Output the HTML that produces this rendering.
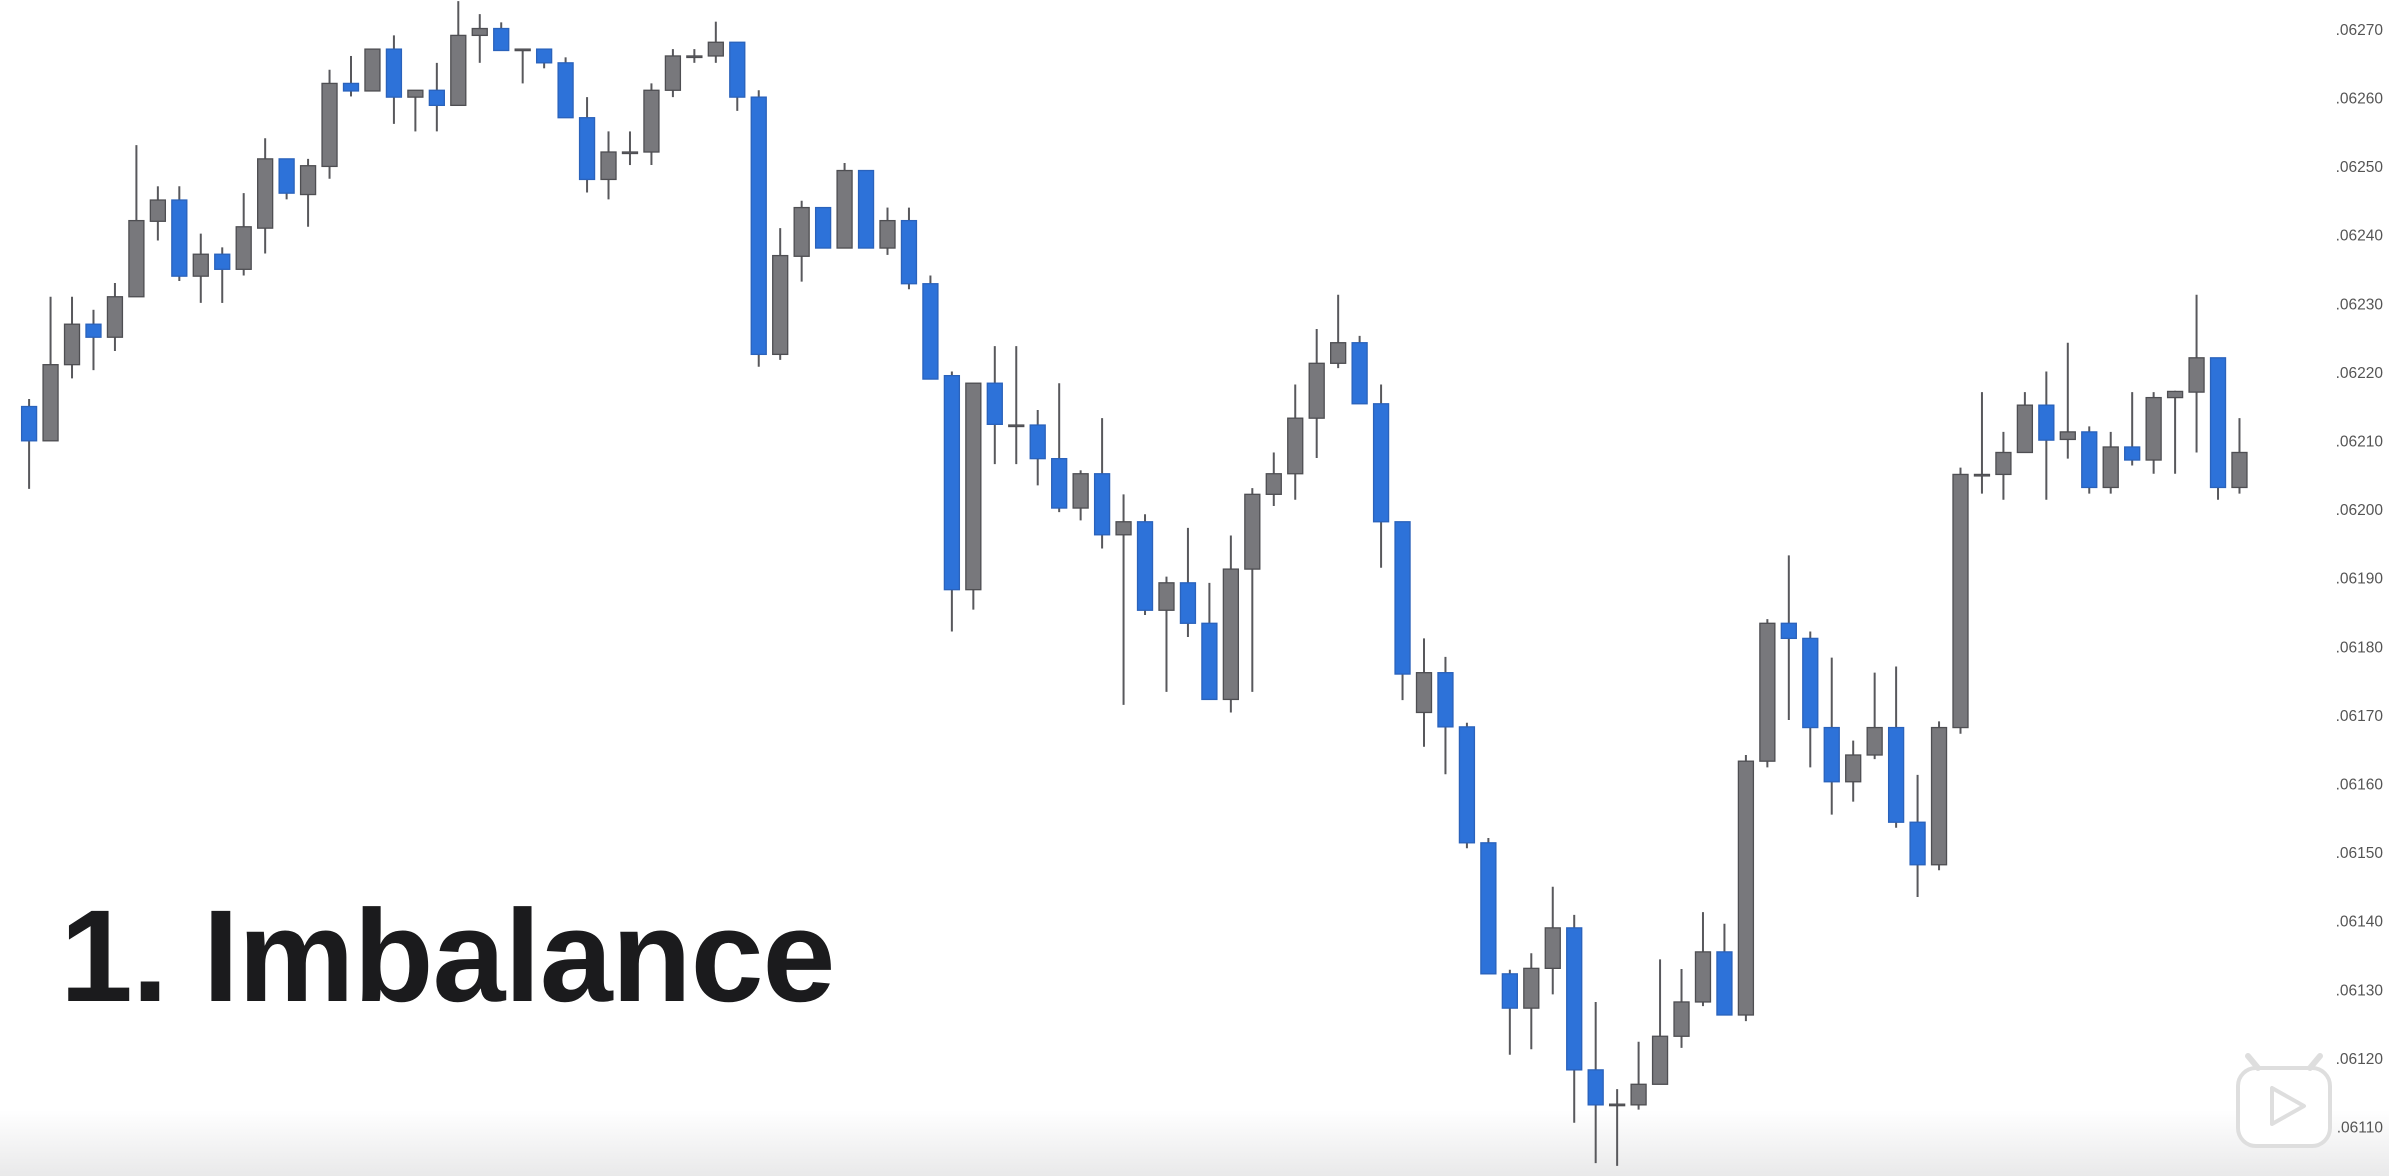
<!DOCTYPE html>
<html><head><meta charset="utf-8"><style>
html,body{margin:0;padding:0;background:#fff;}
#wrap{position:relative;width:2389px;height:1176px;overflow:hidden;background:#fff;font-family:"Liberation Sans",sans-serif;}
#title{position:absolute;left:60px;top:880px;font-size:131px;font-weight:bold;color:#1b1b1d;letter-spacing:-1px;white-space:nowrap;}
#fade{position:absolute;left:0;top:1110px;width:2389px;height:66px;background:linear-gradient(#fff,#e9e9ea);}
</style></head><body>
<div id="wrap">
<div id="fade"></div>
<svg id="chart" width="2389" height="1176" style="position:absolute;left:0;top:0"></svg>
<div id="title">1. Imbalance</div>
</div>
<script>
// prices in units of 1e-5
const opens =  [6215.1,6210.1,6221.2,6227.1,6225.2,6231.1,6242.1,6245.2,6234.1,6237.3,6235.1,6241.1,6251.2,6246.0,6250.1,6262.2,6261.1,6267.2,6260.2,6261.2,6259.0,6269.2,6270.2,6267.0,6267.2,6265.2,6257.2,6248.2,6252.2,6252.2,6261.2,6266.2,6266.2,6268.2,6260.2,6222.7,6237.0,6244.1,6238.2,6249.5,6238.2,6242.2,6233.0,6219.6,6188.4,6218.5,6212.4,6212.4,6207.5,6200.3,6205.3,6196.4,6198.3,6185.4,6189.4,6183.5,6172.4,6191.4,6202.3,6205.3,6213.4,6221.4,6224.4,6215.5,6198.3,6170.5,6176.3,6168.4,6151.5,6132.4,6127.4,6133.2,6139.1,6118.4,6113.4,6113.3,6116.3,6123.3,6128.3,6135.6,6126.4,6163.4,6183.5,6181.3,6168.3,6160.4,6164.3,6168.3,6154.5,6148.3,6168.3,6205.2,6205.2,6208.4,6215.3,6210.3,6211.4,6203.3,6209.2,6207.3,6216.4,6217.2,6222.2,6203.3];
const highs =  [6216.2,6231.1,6231.1,6229.2,6233.1,6253.2,6247.2,6247.2,6240.3,6238.3,6246.2,6254.2,6251.2,6251.2,6264.2,6266.2,6267.2,6269.2,6261.2,6265.2,6274.2,6272.3,6271.1,6267.2,6267.2,6266.0,6260.2,6255.2,6255.2,6262.2,6267.2,6267.2,6271.2,6268.2,6261.2,6241.1,6245.1,6244.1,6250.6,6249.5,6244.1,6244.1,6234.2,6220.2,6218.5,6223.9,6223.9,6214.6,6218.5,6205.8,6213.4,6202.3,6199.4,6190.3,6197.4,6189.4,6196.3,6203.2,6208.4,6218.3,6226.4,6231.4,6225.4,6218.3,6198.3,6181.3,6178.6,6169.0,6152.2,6133.0,6135.4,6145.1,6141.0,6128.3,6115.6,6122.5,6134.5,6133.1,6141.4,6139.7,6164.3,6184.1,6193.4,6182.3,6178.5,6166.4,6176.3,6177.2,6161.4,6169.2,6206.2,6217.2,6211.4,6217.2,6220.2,6224.4,6212.2,6211.4,6217.2,6217.2,6217.4,6231.4,6222.2,6213.4];
const lows =   [6203.1,6210.1,6219.2,6220.4,6223.2,6231.1,6239.3,6233.4,6230.2,6230.2,6234.2,6237.4,6245.3,6241.3,6248.3,6260.3,6261.1,6256.3,6255.2,6255.2,6259.0,6265.2,6267.0,6262.2,6264.4,6257.2,6246.3,6245.3,6250.3,6250.3,6260.2,6265.2,6265.2,6258.2,6220.9,6221.9,6233.3,6238.2,6238.2,6238.2,6237.2,6232.2,6219.1,6182.3,6185.5,6206.7,6206.7,6203.6,6199.7,6198.5,6194.4,6171.6,6184.7,6173.5,6181.5,6172.4,6170.5,6173.5,6200.6,6201.5,6207.6,6220.7,6215.5,6191.6,6172.3,6165.5,6161.5,6150.7,6132.4,6120.6,6121.4,6129.4,6110.7,6104.8,6104.4,6112.6,6116.3,6121.6,6127.7,6126.4,6125.5,6162.5,6169.4,6162.5,6155.6,6157.5,6163.7,6153.7,6143.6,6147.5,6167.4,6202.4,6201.5,6208.4,6201.5,6207.5,6202.4,6202.4,6206.5,6205.3,6205.3,6208.4,6201.5,6202.4];
const closes = [6210.1,6221.2,6227.1,6225.2,6231.1,6242.2,6245.2,6234.1,6237.3,6235.1,6241.3,6251.2,6246.2,6250.2,6262.2,6261.1,6267.2,6260.2,6261.2,6259.0,6269.2,6270.2,6267.0,6267.2,6265.2,6257.2,6248.2,6252.2,6252.2,6261.2,6266.2,6266.2,6268.2,6260.2,6222.7,6237.1,6244.1,6238.2,6249.5,6238.2,6242.2,6233.0,6219.1,6188.4,6218.5,6212.5,6212.4,6207.5,6200.3,6205.3,6196.4,6198.3,6185.4,6189.4,6183.5,6172.4,6191.4,6202.3,6205.3,6213.4,6221.4,6224.4,6215.5,6198.3,6176.1,6176.3,6168.4,6151.5,6132.4,6127.4,6133.2,6139.1,6118.4,6113.3,6113.4,6116.3,6123.3,6128.3,6135.6,6126.4,6163.4,6183.5,6181.3,6168.3,6160.4,6164.3,6168.3,6154.5,6148.3,6168.3,6205.2,6205.2,6208.4,6215.3,6210.2,6211.4,6203.3,6209.2,6207.3,6216.4,6217.3,6222.2,6203.3,6208.4];
const tickValues = [6270,6260,6250,6240,6230,6220,6210,6200,6190,6180,6170,6160,6150,6140,6130,6120,6110];
const tickLabels = [".06270",".06260",".06250",".06240",".06230",".06220",".06210",".06200",".06190",".06180",".06170",".06160",".06150",".06140",".06130",".06120",".06110"];

const NS="http://www.w3.org/2000/svg";
const svg=document.getElementById('chart');
function yScale(p){return 304.3+(6230-p)*6.86;}
function xScale(i){return 29.1+i*21.46;}
function mk(tag,attrs){const e=document.createElementNS(NS,tag);for(const k in attrs)e.setAttribute(k,attrs[k]);svg.appendChild(e);return e;}

tickValues.forEach((v,i)=>{
  const t=mk('text',{x:2383,y:yScale(v)+5,'text-anchor':'end','font-size':'15.5','fill':'#555','font-family':'Liberation Sans, sans-serif'});
  t.textContent=tickLabels[i];
  
  
});

for(let i=0;i<opens.length;i++){
  const o=opens[i],h=highs[i],l=lows[i],c=closes[i];
  const x=xScale(i);
  const up=c>=o;
  const g=document.createElementNS(NS,'g');
  
  
  svg.appendChild(g);
  const w=document.createElementNS(NS,'line');
  w.setAttribute('x1',x);w.setAttribute('x2',x);
  w.setAttribute('y1',yScale(h));w.setAttribute('y2',yScale(l));
  w.setAttribute('stroke','#58585c');w.setAttribute('stroke-width','2');
  
  
  g.appendChild(w);
  const top=yScale(Math.max(o,c)),bot=yScale(Math.min(o,c));
  const r=document.createElementNS(NS,'rect');
  r.setAttribute('x',x-7.5);r.setAttribute('width',15);
  r.setAttribute('y',top);r.setAttribute('height',Math.max(bot-top,1.5));
  r.setAttribute('fill',up?'#78787c':'#2d72d9');
  r.setAttribute('stroke',up?'#4e4e52':'#2a62bb');r.setAttribute('stroke-width','1.3');
  
  
  g.appendChild(r);
}

// bilibili logo
const logo=mk('g',{});


const parts=[['rect',{x:2238,y:1068,width:92,height:78,rx:18,fill:'#fff',stroke:'#dedede','stroke-width':4}],
['line',{x1:2258,y1:1068,x2:2248,y2:1056,stroke:'#dedede','stroke-width':6,'stroke-linecap':'round'}],
['line',{x1:2310,y1:1068,x2:2320,y2:1056,stroke:'#dedede','stroke-width':6,'stroke-linecap':'round'}],
['path',{d:'M2272 1088 L2272 1124 L2304 1106 Z',fill:'#fff',stroke:'#dedede','stroke-width':4,'stroke-linejoin':'round'}]];
parts.forEach(p=>{const e=document.createElementNS(NS,p[0]);for(const k in p[1])e.setAttribute(k,p[1][k]);logo.appendChild(e);});
</script>
</body></html>
